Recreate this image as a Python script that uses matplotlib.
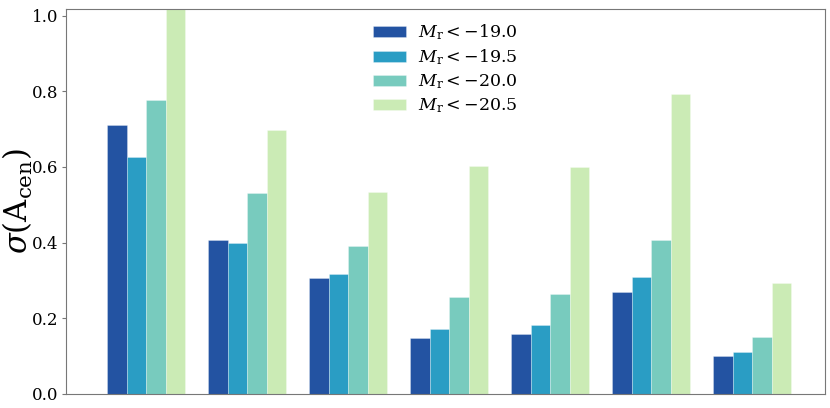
import numpy as np
import matplotlib.pyplot as plt

plt.rcParams['font.family'] = 'DejaVu Serif'
plt.rcParams['mathtext.fontset'] = 'dejavuserif'

labels = [r'$M_{\rm r} < -19.0$', r'$M_{\rm r} < -19.5$',
          r'$M_{\rm r} < -20.0$', r'$M_{\rm r} < -20.5$']
colors = ['#2353a2', '#2a9dc4', '#78cbbe', '#cbebb5']

m190 = [0.712, 0.408, 0.307, 0.148, 0.157, 0.268, 0.100]
m195 = [0.626, 0.400, 0.316, 0.170, 0.183, 0.310, 0.110]
m200 = [0.776, 0.530, 0.390, 0.255, 0.265, 0.407, 0.150]
m205 = [1.10, 0.698, 0.535, 0.603, 0.600, 0.792, 0.293]
series = [m190, m195, m200, m205]

x = np.arange(len(m190))
width = 0.193

fig, ax = plt.subplots(figsize=(8.3, 4.08), dpi=100)
for i, vals in enumerate(series):
    ax.bar(x + (i - 1.5) * width, vals, width, color=colors[i],
           edgecolor=(1, 1, 1, 0.4), linewidth=0.5, label=labels[i])

ax.set_xlim(-0.8, 6.72)
ax.set_ylim(0, 1.018)
ax.set_xticks([])
ax.set_yticks([0.0, 0.2, 0.4, 0.6, 0.8, 1.0])
ax.tick_params(axis='y', labelsize=12, length=3, color='#777777', pad=2)
for s in ax.spines.values():
    s.set_color('#777777')
ax.set_ylabel(r'$\sigma(\mathrm{A_{cen}})$', fontsize=22, labelpad=-2)

ax.legend(loc='upper center', frameon=False, fontsize=12.5,
          handlelength=1.9, handleheight=0.6, labelspacing=0.3,
          handletextpad=0.7, bbox_to_anchor=(0.5, 1.005))

fig.subplots_adjust(left=0.079, right=0.994, bottom=0.035, top=0.978)
fig.savefig('out.png')
